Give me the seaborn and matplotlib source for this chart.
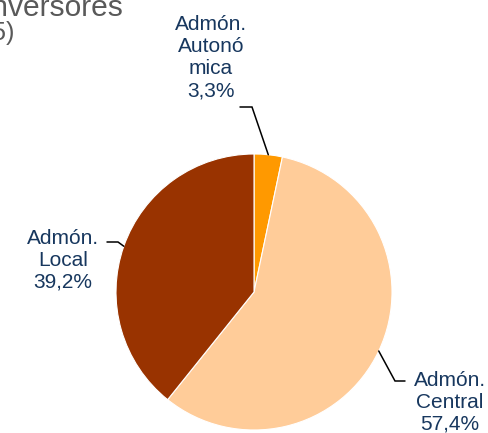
import numpy as np
import seaborn as sns
import matplotlib
matplotlib.use("Agg")
import matplotlib.pyplot as plt

# data
sectores = ['Admón.\nAutonó\nmica', 'Admón.\nCentral', 'Admón.\nLocal']
porcentajes = [3.3, 57.4, 39.2]
colores = ['#FF9900', '#FFCC99', '#993300']

# label layout: (text x, text y, elbow x, elbow y, end x, end y) in pixels
label_pos = [
    (211, 58, 252, 107, 240, 107),
    (450, 402, 395, 381, 405, 381),
    (63, 260, 118, 242, 107, 242),
]

W, H = 488, 433
cx, cy, r = 254, 292, 138


def px(x, y):
    """ pixel position -> data coords (pie radius = 1) """
    return (x - cx) / r, (cy - y) / r


sns.set_theme(style='white')
plt.rcParams['font.family'] = ['Liberation Sans', 'DejaVu Sans']

fig = plt.figure(figsize=(W / 100, H / 100), dpi=100)
ax = fig.add_axes([0, 0, 1, 1])

wedges, _ = ax.pie(porcentajes, colors=sns.color_palette(colores), startangle=90,
                   counterclock=False, radius=1, center=(0, 0),
                   wedgeprops=dict(edgecolor='white', linewidth=0.8))

# pie() resets the limits, so set them afterwards
ax.set_aspect('auto')
ax.set_xlim(-cx / r, (W - cx) / r)
ax.set_ylim(-(H - cy) / r, cy / r)
ax.axis('off')

azul = '#17375E'
for w, nombre, pct, pos in zip(wedges, sectores, porcentajes, label_pos):
    mid = np.deg2rad((w.theta1 + w.theta2) / 2)
    p0 = (np.cos(mid), np.sin(mid))
    tx, ty = px(pos[0], pos[1])
    ex, ey = px(pos[2], pos[3])
    fx, fy = px(pos[4], pos[5])
    ax.plot([p0[0], ex, fx], [p0[1], ey, fy], color='black', lw=1.1,
            solid_joinstyle='miter')
    etiqueta = nombre + '\n' + f'{pct:.1f}'.replace('.', ',') + '%'
    ax.text(tx, ty, etiqueta, ha='center', va='center', multialignment='center',
            fontsize=15, color=azul, linespacing=1.2)

# title, cut off by the figure edge as in the reference
gris = '#595959'
tx, ty = px(123, 16)
ax.text(tx, ty, 'Inversores', ha='right', va='baseline', fontsize=21.6, color=gris)
tx, ty = px(15, 40)
ax.text(tx, ty, '(2015)', ha='right', va='baseline', fontsize=18, color=gris)

fig.savefig('out.png', dpi=100)
